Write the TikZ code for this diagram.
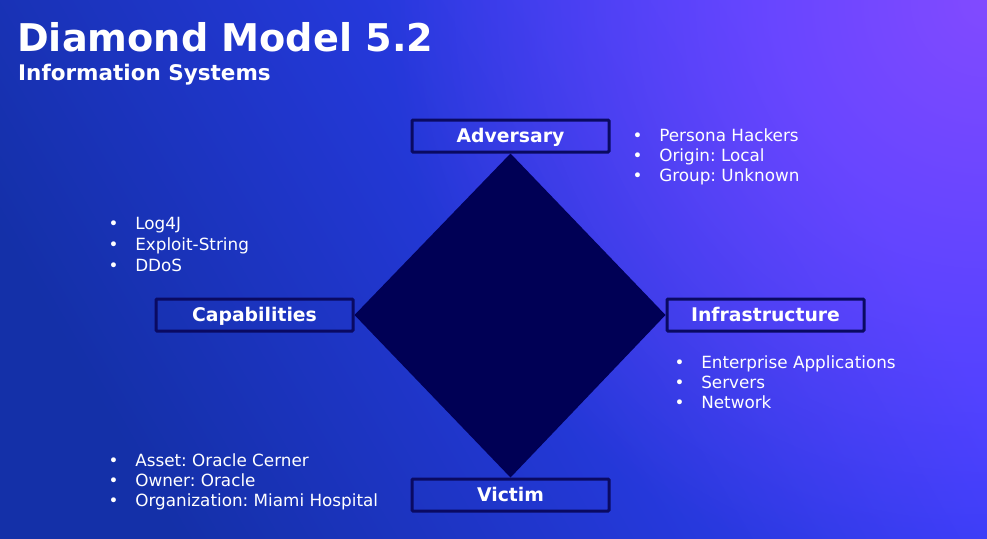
\documentclass[tikz,border=0pt]{standalone}
\usepackage{fontspec}
\setmainfont{DejaVu Sans}
\frenchspacing
\usetikzlibrary{fadings}

\definecolor{bgdark}{HTML}{1430A8}
\definecolor{bgmid}{HTML}{2438D8}
\definecolor{bgbright}{HTML}{3A3EFF}
\definecolor{bgviolet}{HTML}{8A4CFF}
\definecolor{navy}{HTML}{000055}
\definecolor{boxline}{HTML}{0A0A62}

% slide background: dark blue at the bottom left, bright blue towards the right
\pgfdeclareverticalshading{slidebg}{100bp}{color(0bp)=(bgdark); color(25bp)=(bgdark); color(50bp)=(bgmid); color(72bp)=(bgbright); color(100bp)=(bgbright)}
% violet glow in the upper right corner
\tikzfading[name=glow, inner color=transparent!0, outer color=transparent!100]

\pgfdeclarelayer{slide}
\pgfdeclarelayer{body}
\pgfsetlayers{slide,body,main}

\tikzset{
  vertexbox/.style={draw=boxline, line width=3pt, rounded corners=1pt,
    minimum width=197pt, minimum height=32pt, inner sep=0pt, text=white,
    text height=13.5pt, text depth=0pt,
    font=\bfseries\fontsize{18.8}{20}\selectfont},
  listitem/.style={anchor=base west, inner sep=0pt, text=white,
    font=\fontsize{16.8}{20}\selectfont},
}
\newcommand{\bulletline}[1]{\makebox[26.6pt][l]{•}#1}

\begin{document}
\begin{tikzpicture}[x=1pt,y=-1pt]
\useasboundingbox (0,0) rectangle (987,538);
\begin{pgfonlayer}{slide}
  \shade[shading=slidebg, shading angle=-60] (0,0) rectangle (987,538);
  \clip (0,0) rectangle (987,538);
  \fill[bgviolet, opacity=0.9, path fading=glow] (987,0) circle (600pt);
\end{pgfonlayer}

% title
\node[anchor=base west, inner sep=0pt, text=white, font=\bfseries\fontsize{38.2}{40}\selectfont] (title) at (17,51) {Diamond Model 5.2};
\node[anchor=base west, inner sep=0pt, text=white, font=\bfseries\fontsize{21.5}{24}\selectfont] (subtitle) at (18,80) {Information Systems};

% the four vertices of the diamond
\node[vertexbox] (adv) at (510.5,136) {Adversary};
\node[vertexbox] (cap) at (254.5,315) {Capabilities};
\node[vertexbox] (inf) at (765.5,315) {Infrastructure};
\node[vertexbox] (vic) at (510.5,495) {Victim};

% diamond body, behind the boxes
\begin{pgfonlayer}{body}
  \fill[navy] (adv.south) -- (inf.west) -- (vic.north) -- (cap.east) -- cycle;
\end{pgfonlayer}

% feature lists
\foreach [count=\i] \t in {Persona Hackers, Origin: Local, Group: Unknown}
  \node[listitem] (advitem\i) at (632.5,{141+20*(\i-1)}) {\bulletline{\t}};
\foreach [count=\i] \t in {Log4J, Exploit-String, DDoS}
  \node[listitem] (capitem\i) at (108.5,{229+21*(\i-1)}) {\bulletline{\t}};
\foreach [count=\i] \t in {Enterprise Applications, Servers, Network}
  \node[listitem] (infitem\i) at (674.5,{368+20*(\i-1)}) {\bulletline{\t}};
\foreach [count=\i] \t in {Asset: Oracle Cerner, Owner: Oracle, Organization: Miami Hospital}
  \node[listitem] (vicitem\i) at (108.5,{466+20*(\i-1)}) {\bulletline{\t}};
\end{tikzpicture}
\end{document}
